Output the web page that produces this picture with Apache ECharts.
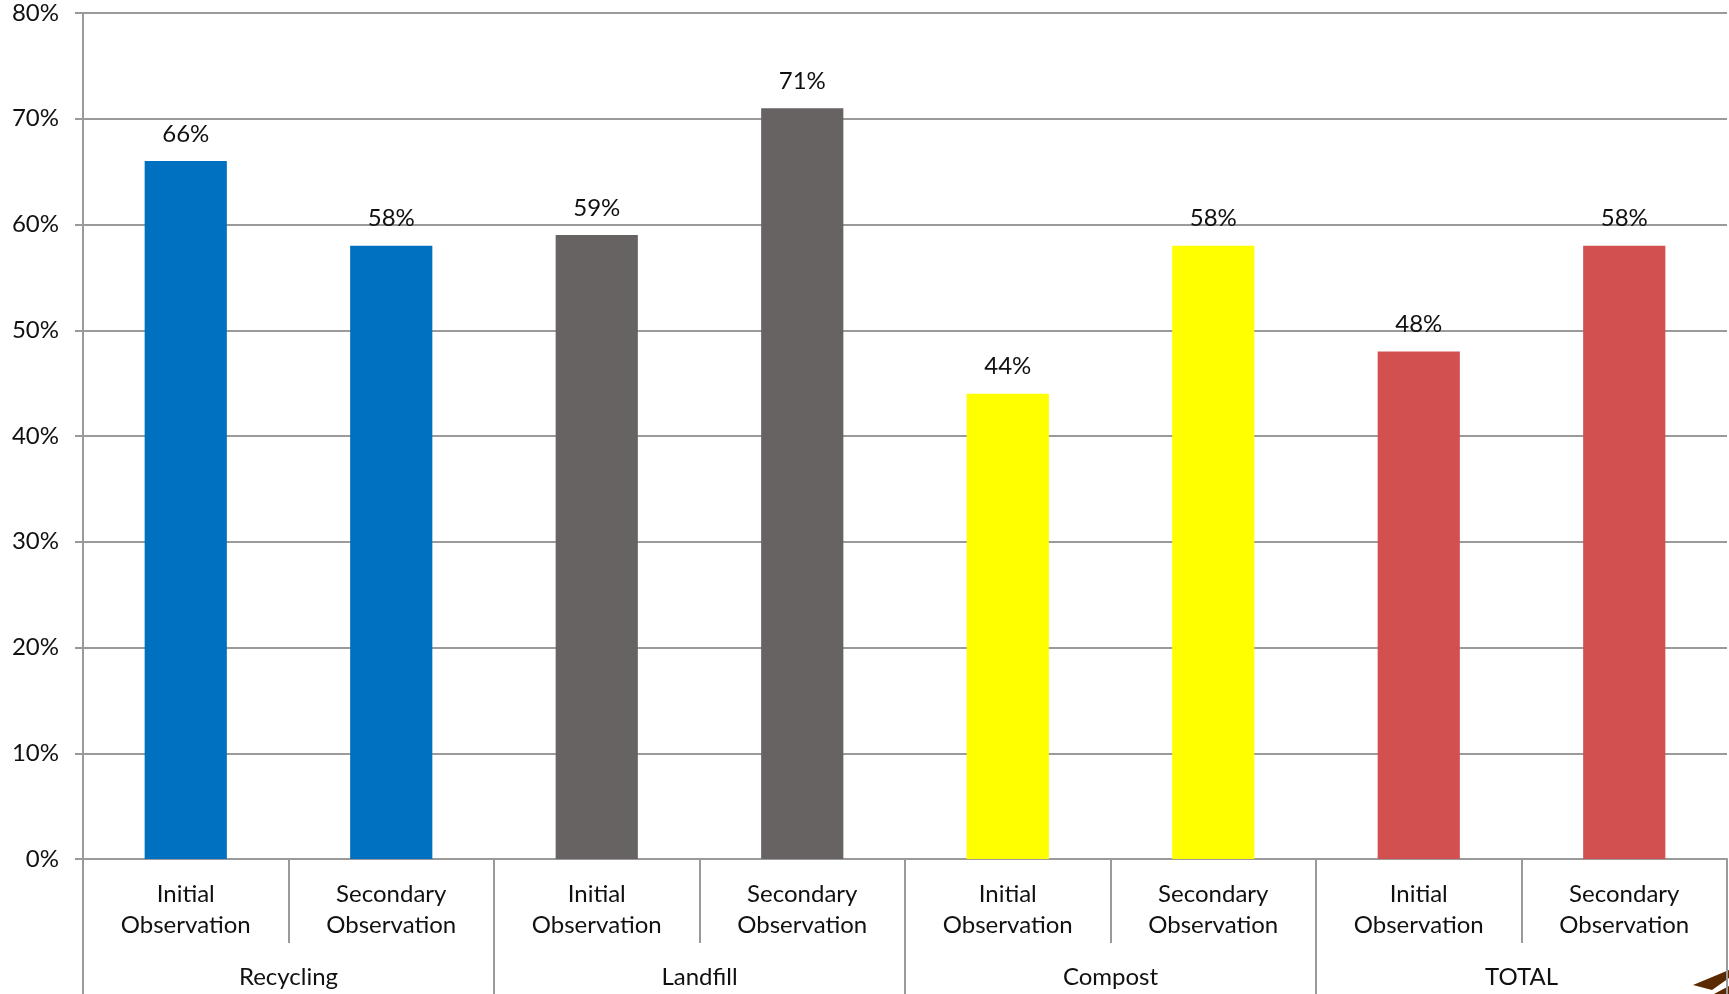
<!DOCTYPE html>
<html>
<head>
<meta charset="utf-8">
<script src="https://cdn.jsdelivr.net/npm/echarts@6/dist/echarts.min.js"></script>
<style>
html,body{margin:0;padding:0;background:#fff;}
#chart{width:1729px;height:994px;}
</style>
</head>
<body>
<div id="chart"></div>
<script>
var subCategories = ['Initial\nObservation','Secondary\nObservation','Initial\nObservation','Secondary\nObservation','Initial\nObservation','Secondary\nObservation','Initial\nObservation','Secondary\nObservation'];
var groups = ['Recycling','Landfill','Compost','TOTAL'];
var values = [66, 58, 59, 71, 44, 58, 48, 58];
var barColors = ['#0070C0','#0070C0','#666362','#666362','#FFFF00','#FFFF00','#D35050','#D35050'];
var yTicks = [0,10,20,30,40,50,60,70,80];

var FONT = 'Lato';
var GRID_COLOR = '#9a9a9a';

var chart = echarts.init(document.getElementById('chart'));
chart.setOption({
  animation: false,
  textStyle: {fontFamily: FONT},
  grid: {left: 83, right: 2, top: 13, bottom: 135, containLabel: false},
  xAxis: [
    {
      type: 'category',
      data: subCategories,
      position: 'bottom',
      axisLine: {show: true, lineStyle: {color: GRID_COLOR, width: 2}},
      axisTick: {show: true, length: 84, interval: 0, lineStyle: {color: GRID_COLOR, width: 2}},
      axisLabel: {interval: 0, margin: 20, fontSize: 24, lineHeight: 31, color: '#111', fontFamily: FONT}
    },
    {
      type: 'category',
      data: groups,
      position: 'bottom',
      axisLine: {show: false},
      axisTick: {show: true, length: 140, interval: 0, lineStyle: {color: GRID_COLOR, width: 2}},
      axisLabel: {interval: 0, margin: 106, fontSize: 24, color: '#111', fontFamily: FONT}
    }
  ],
  yAxis: {
    type: 'value',
    min: yTicks[0],
    max: yTicks[yTicks.length - 1],
    interval: 10,
    axisLine: {show: true, lineStyle: {color: GRID_COLOR, width: 2}},
    axisTick: {show: true, length: 8, lineStyle: {color: GRID_COLOR, width: 2}},
    splitLine: {show: true, lineStyle: {color: GRID_COLOR, width: 2}},
    axisLabel: {formatter: '{value}%', fontSize: 24, color: '#111', margin: 24, fontFamily: FONT}
  },
  series: [{
    type: 'bar',
    xAxisIndex: 0,
    barWidth: '40%',
    data: values.map(function (v, i) {
      return {value: v, itemStyle: {color: barColors[i]}};
    }),
    label: {
      show: true,
      position: 'top',
      distance: 15,
      formatter: '{c}%',
      fontSize: 24,
      color: '#111',
      fontFamily: FONT
    }
  }],
  graphic: [{
    type: 'polygon',
    shape: {points: [[1693, 985], [1729, 970], [1729, 978], [1712, 990]]},
    style: {fill: '#5C2A00'}
  }, {
    type: 'polygon',
    shape: {points: [[1714, 994], [1729, 986], [1729, 994]]},
    style: {fill: '#5C2A00'}
  }]
});
</script>
</body>
</html>
